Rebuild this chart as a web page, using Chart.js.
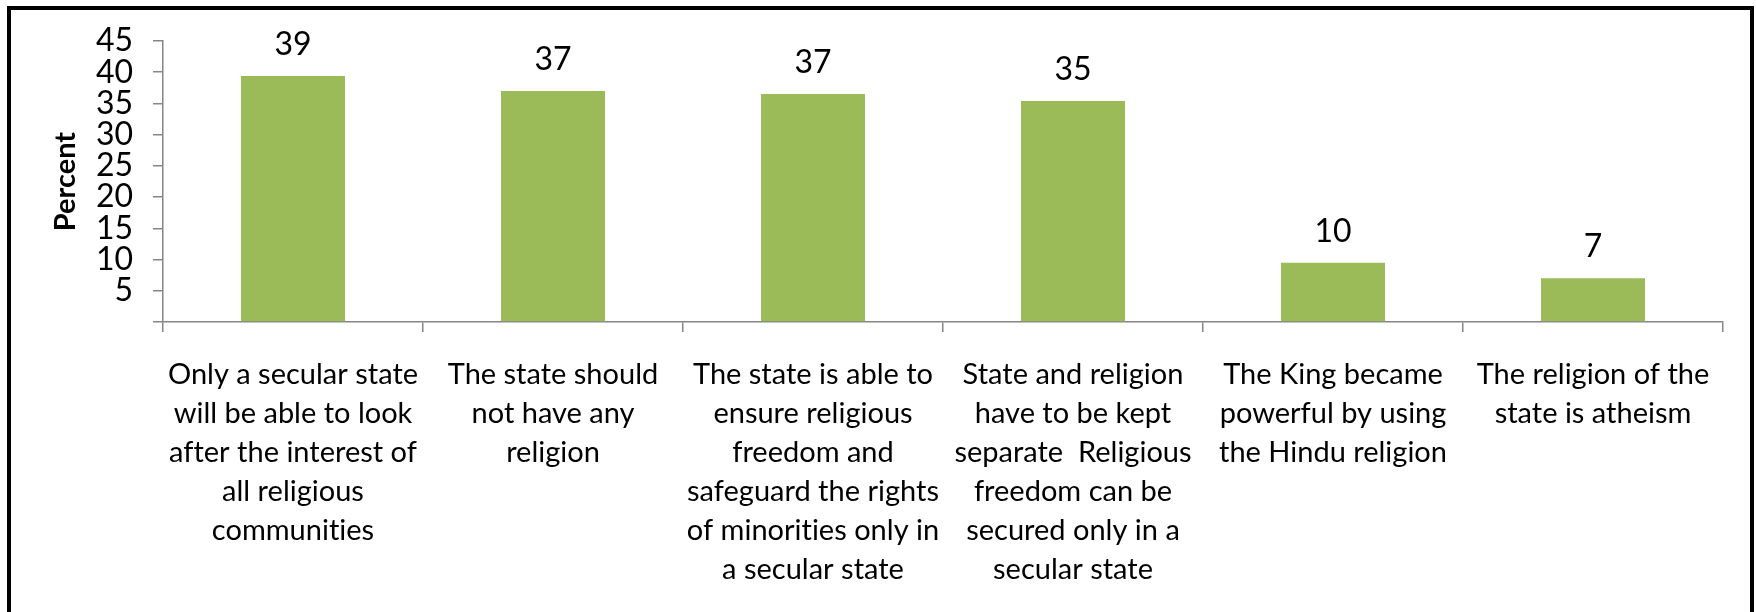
<!DOCTYPE html>
<html>
<head>
<meta charset="utf-8">
<script src="https://cdn.jsdelivr.net/npm/chart.js@4.4.1/dist/chart.umd.min.js"></script>
<style>
  html, body { margin: 0; padding: 0; background: #fff; overflow: hidden; }
  .frame {
    position: absolute; left: 7px; top: 6px; width: 1739px; height: 700px;
    border: 4px solid #000; border-bottom: none;
  }
  .chart { position: absolute; left: 0; top: 0; width: 1756px; height: 612px; }
</style>
</head>
<body>
<div class="frame"></div>
<div class="chart">
  <canvas id="bar-chart" width="1756" height="612"></canvas>
</div>
<script>
// categories, already split into the lines shown under the axis
const categories = [
  ['Only a secular state', 'will be able to look', 'after the interest of', 'all religious', 'communities'],
  ['The state should', 'not have any', 'religion'],
  ['The state is able to', 'ensure religious', 'freedom and', 'safeguard the rights', 'of minorities only in', 'a secular state'],
  ['State and religion', 'have to be kept', 'separate  Religious', 'freedom can be', 'secured only in a', 'secular state'],
  ['The King became', 'powerful by using', 'the Hindu religion'],
  ['The religion of the', 'state is atheism']
]
const percentValues = [39.4, 37.0, 36.5, 35.4, 9.5, 7.0]
const yMax = 45
const yStep = 5

const axisGrey = '#868686'
const fontFamily = 'Lato, "Open Sans", sans-serif'

// no ligatures ("ti" in communities)
const plainText = {
  id: 'plainText',
  beforeDraw(chart) { chart.ctx.textRendering = 'optimizeSpeed' }
}

// values written above each bar
const barValueLabels = {
  id: 'barValueLabels',
  afterDatasetsDraw(chart) {
    const ctx = chart.ctx
    const meta = chart.getDatasetMeta(0)
    ctx.save()
    ctx.font = '32px ' + fontFamily
    ctx.fillStyle = '#000'
    ctx.textAlign = 'center'
    ctx.textBaseline = 'alphabetic'
    meta.data.forEach((bar, i) => {
      ctx.fillText(String(Math.round(percentValues[i])), bar.x, bar.y - 21)
    })
    ctx.restore()
  }
}

const beerChart = new Chart(document.getElementById('bar-chart'), {
  type: 'bar',
  data: {
    labels: categories,
    datasets: [
      {
        label: 'Percent',
        backgroundColor: '#9BBB59',
        data: percentValues,
        categoryPercentage: 0.4,
        barPercentage: 1
      }
    ]
  },
  options: {
    responsive: false,
    animation: false,
    layout: { padding: { left: 48, top: 41, right: 33, bottom: 0 } },
    plugins: {
      legend: { display: false },
      tooltip: { enabled: false }
    },
    scales: {
      x: {
        grid: {
          display: true,
          drawOnChartArea: false,
          drawTicks: true,
          tickLength: 10,
          color: axisGrey,
          lineWidth: 1.5,
          offset: true
        },
        border: { display: true, color: axisGrey, width: 1.5 },
        ticks: {
          autoSkip: false,
          maxRotation: 0,
          minRotation: 0,
          padding: 23,
          color: '#000',
          font: { family: fontFamily, size: 29, lineHeight: '39px' }
        },
        afterFit(scale) { scale.height = 290 }
      },
      y: {
        min: 0,
        max: yMax,
        grid: {
          display: true,
          drawOnChartArea: false,
          drawTicks: true,
          tickLength: 10,
          color: axisGrey,
          lineWidth: 1.5
        },
        border: { display: true, color: axisGrey, width: 1.5 },
        ticks: {
          autoSkip: false,
          stepSize: yStep,
          padding: 20,
          color: '#000',
          font: { family: fontFamily, size: 32 },
          callback: v => (v === 0 ? '' : v)
        },
        title: {
          display: true,
          text: 'Percent',
          color: '#000',
          padding: 0,
          font: { family: fontFamily, size: 29, weight: 'bold' }
        },
        afterFit(scale) { scale.width = 115 }
      }
    }
  },
  plugins: [plainText, barValueLabels]
})
</script>
</body>
</html>
